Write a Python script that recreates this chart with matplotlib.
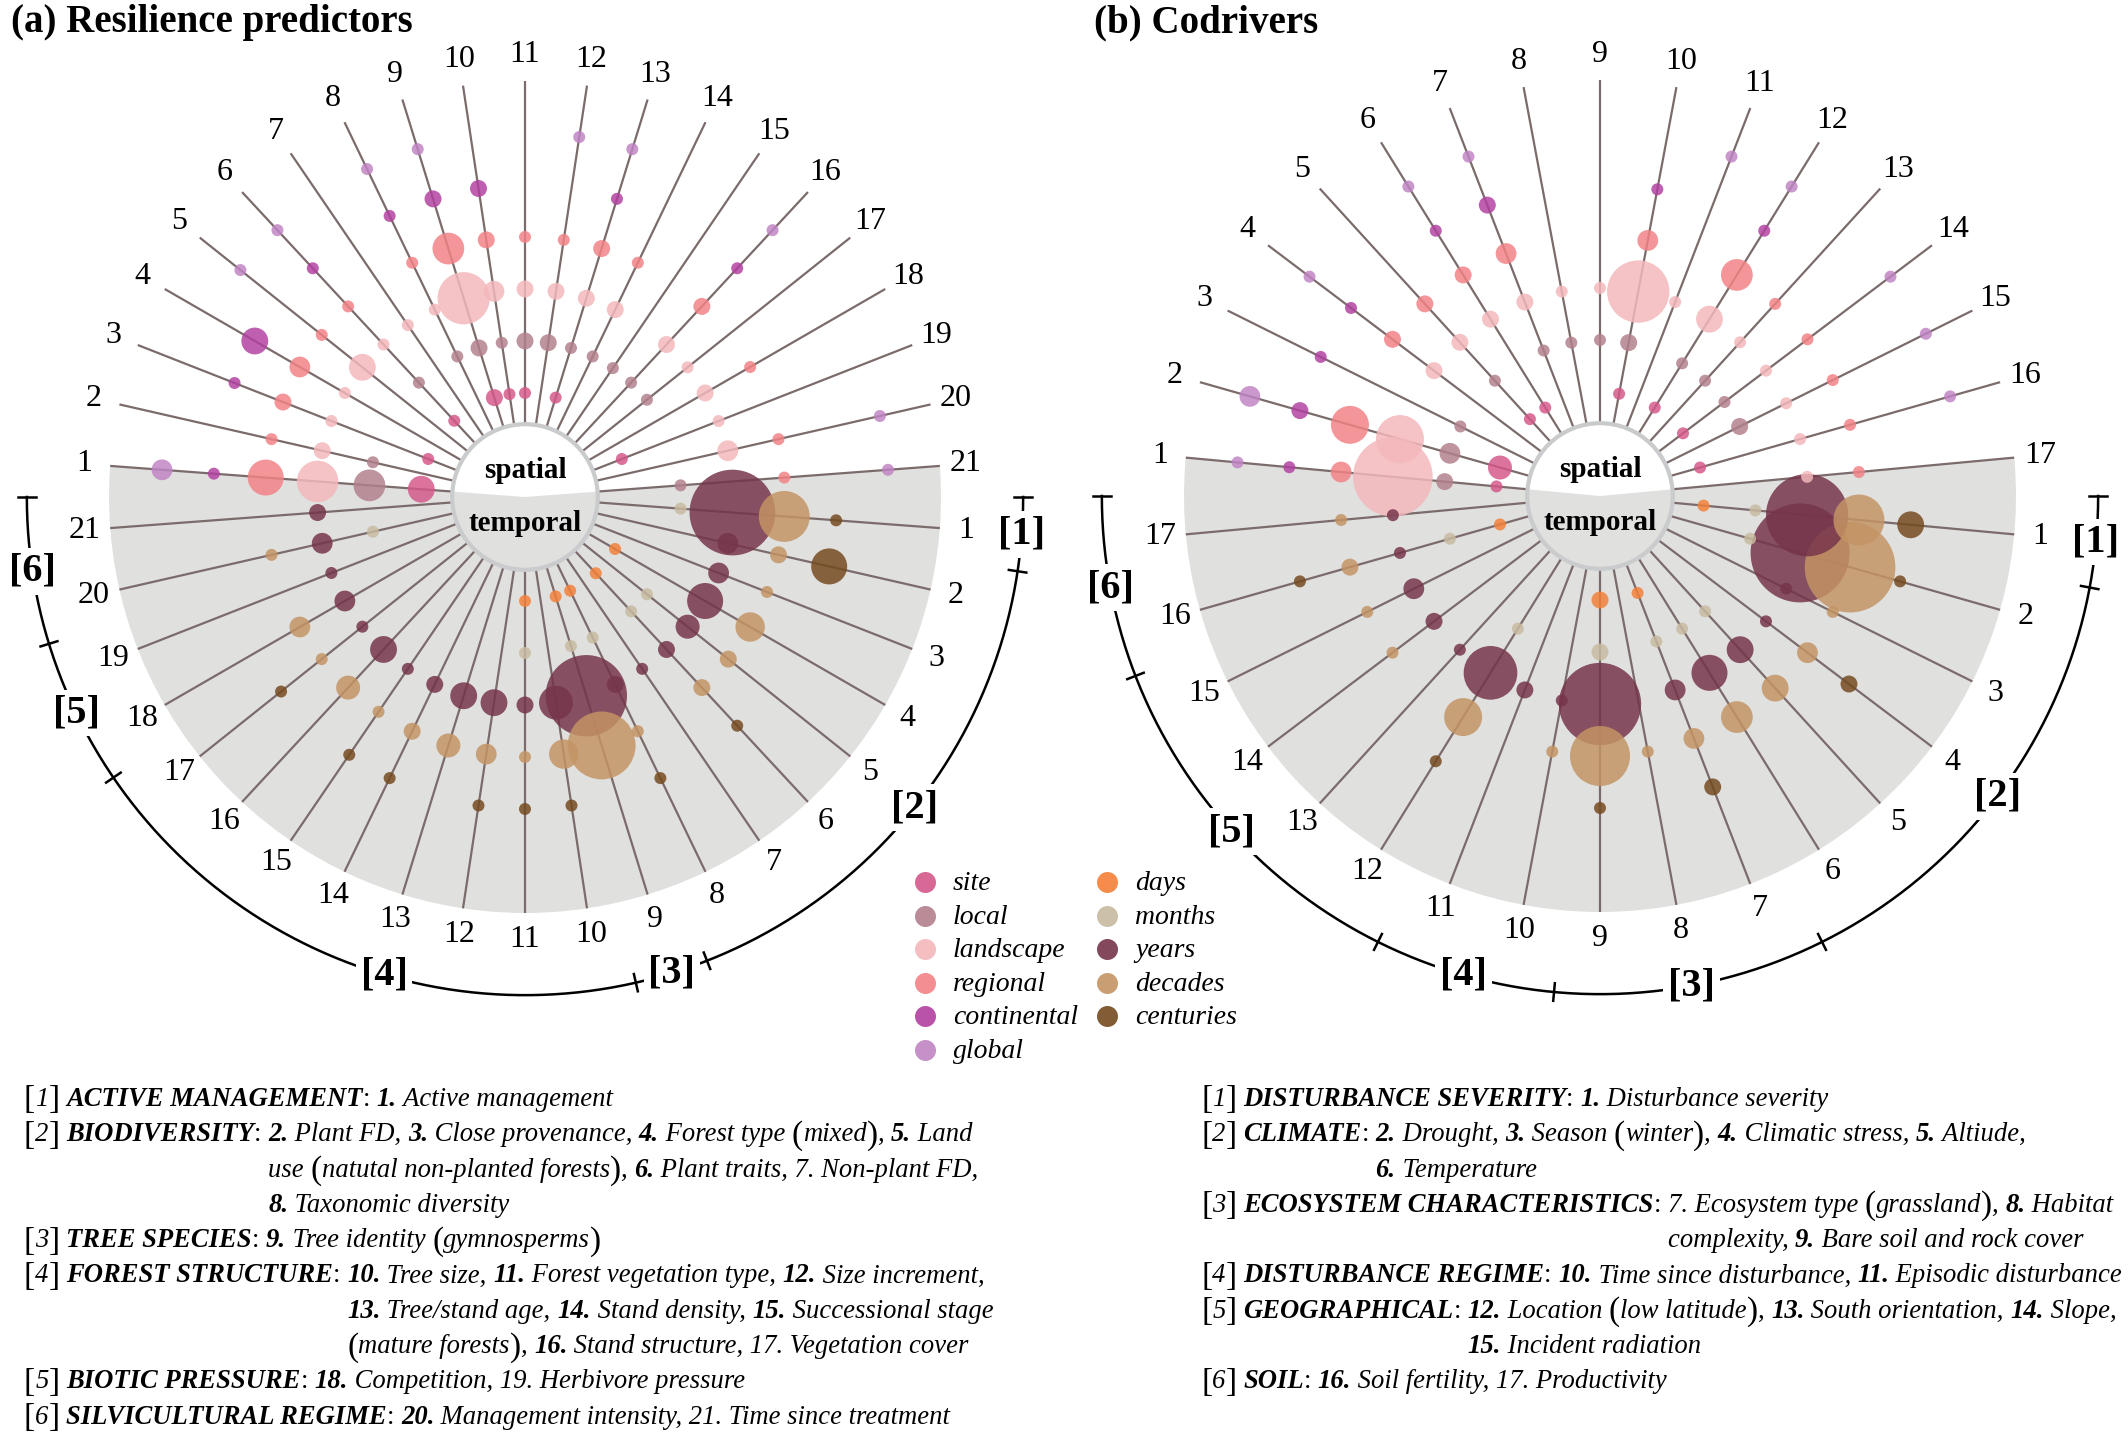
import numpy as np
import matplotlib
matplotlib.use("Agg")
import matplotlib.pyplot as plt
from matplotlib.patches import Wedge, Circle

# ---------------- data ----------------
spatial_scales = ["site", "local", "landscape", "regional", "continental", "global"]
temporal_scales = ["days", "months", "years", "decades", "centuries"]
spatial_colors = ["#d4588a", "#b2808c", "#f4b8bc", "#f28286", "#b240a0", "#c084c4"]
temporal_colors = ["#f48038", "#c8baa0", "#76344a", "#c49464", "#744a1e"]

# number of studies, rows = predictor 1..21, columns = spatial scale
resilience_spatial = [
    [5, 7, 12, 9, 1, 3],
    [0, 1, 2, 1, 0, 0],
    [1, 0, 1, 2, 1, 0],
    [0, 0, 1, 3, 5, 0],
    [0, 0, 5, 1, 0, 1],
    [1, 1, 1, 1, 1, 1],
    [0, 0, 1, 0, 0, 0],
    [0, 1, 1, 1, 1, 1],
    [2, 2, 19, 7, 2, 1],
    [1, 1, 3, 2, 2, 0],
    [1, 2, 2, 1, 0, 0],
    [0, 2, 2, 1, 0, 1],
    [1, 1, 2, 2, 1, 1],
    [0, 1, 2, 1, 0, 0],
    [0, 1, 0, 0, 0, 0],
    [0, 1, 2, 2, 1, 1],
    [0, 1, 1, 0, 0, 0],
    [0, 0, 2, 1, 0, 0],
    [1, 0, 1, 0, 0, 0],
    [0, 0, 3, 1, 0, 1],
    [0, 1, 0, 1, 0, 1],
]
# rows = predictor 1..21, columns = temporal scale
resilience_temporal = [
    [0, 1, 51, 18, 1],
    [0, 0, 3, 2, 9],
    [0, 0, 3, 1, 0],
    [1, 0, 9, 6, 0],
    [0, 1, 4, 2, 0],
    [1, 1, 2, 2, 1],
    [0, 0, 1, 0, 0],
    [1, 1, 2, 1, 1],
    [1, 1, 46, 32, 0],
    [0, 0, 8, 6, 1],
    [1, 1, 2, 1, 1],
    [0, 0, 5, 3, 1],
    [0, 0, 5, 4, 0],
    [0, 0, 2, 2, 1],
    [0, 0, 1, 1, 1],
    [0, 0, 5, 4, 0],
    [0, 0, 1, 1, 1],
    [0, 0, 3, 3, 0],
    [0, 0, 1, 0, 0],
    [0, 1, 3, 1, 0],
    [0, 0, 2, 0, 0],
]
resilience_groups = [1, 7, 1, 8, 2, 2]

codrivers_spatial = [
    [1, 2, 44, 3, 1, 1],
    [4, 3, 16, 10, 2, 3],
    [0, 1, 0, 0, 1, 0],
    [0, 0, 2, 2, 1, 1],
    [1, 1, 2, 2, 0, 0],
    [1, 0, 2, 2, 1, 1],
    [0, 1, 2, 3, 2, 1],
    [0, 1, 1, 0, 0, 0],
    [0, 1, 1, 0, 0, 0],
    [1, 2, 27, 3, 1, 0],
    [0, 0, 1, 0, 0, 1],
    [1, 1, 5, 7, 1, 1],
    [0, 1, 1, 1, 0, 0],
    [1, 1, 1, 1, 0, 1],
    [0, 2, 1, 1, 0, 1],
    [1, 0, 1, 1, 0, 1],
    [0, 0, 1, 1, 0, 0],
]
codrivers_temporal = [
    [1, 1, 47, 18, 5],
    [0, 1, 68, 57, 1],
    [0, 0, 1, 1, 0],
    [0, 0, 1, 3, 2],
    [0, 1, 5, 5, 0],
    [0, 1, 9, 7, 0],
    [1, 1, 3, 3, 2],
    [0, 0, 0, 1, 0],
    [2, 2, 47, 25, 1],
    [0, 0, 1, 1, 0],
    [0, 0, 2, 0, 0],
    [0, 1, 20, 10, 1],
    [0, 0, 1, 0, 0],
    [0, 0, 2, 1, 0],
    [0, 0, 3, 1, 0],
    [1, 1, 1, 2, 1],
    [0, 0, 1, 1, 0],
]
codrivers_groups = [1, 5, 3, 2, 4, 2]

# key text: * toggles bold, | toggles upright, ^ marks the indent, > continues
resilience_key = [
    "|[|1|]| *ACTIVE MANAGEMENT*|:| ^*1.* Active management",
    "|[|2|]| *BIODIVERSITY*|:| ^*2.* Plant FD, *3.* Close provenance, *4.* Forest type |(|mixed|)|, *5.* Land",
    ">use |(|natutal non-planted forests|)|, *6.* Plant traits, 7. Non-plant FD,",
    ">*8.* Taxonomic diversity",
    "|[|3|]| *TREE SPECIES*|:| ^*9.* Tree identity |(|gymnosperms|)|",
    "|[|4|]| *FOREST STRUCTURE*|:| ^*10.* Tree size, *11.* Forest vegetation type, *12.* Size increment,",
    ">*13.* Tree/stand age, *14.* Stand density, *15.* Successional stage",
    ">|(|mature forests|)|, *16.* Stand structure, 17. Vegetation cover",
    "|[|5|]| *BIOTIC PRESSURE*|:| ^*18.* Competition, 19. Herbivore pressure",
    "|[|6|]| *SILVICULTURAL REGIME*|:| ^*20.* Management intensity, 21. Time since treatment",
]
codrivers_key = [
    "|[|1|]| *DISTURBANCE SEVERITY*|:| ^*1.* Disturbance severity",
    "|[|2|]| *CLIMATE*|:| ^*2.* Drought, *3.* Season |(|winter|)|, *4.* Climatic stress, *5.* Altiude,",
    ">*6.* Temperature",
    "|[|3|]| *ECOSYSTEM CHARACTERISTICS*|:| ^7. Ecosystem type |(|grassland|)|, *8.* Habitat",
    ">complexity, *9.* Bare soil and rock cover",
    "|[|4|]| *DISTURBANCE REGIME*|:| ^*10.* Time since disturbance, *11.* Episodic disturbance",
    "|[|5|]| *GEOGRAPHICAL*|:| ^*12.* Location |(|low latitude|)|, *13.* South orientation, *14.* Slope,",
    ">*15.* Incident radiation",
    "|[|6|]| *SOIL*|:| ^*16.* Soil fertility, 17. Productivity",
]

# ---------------- style / layout ----------------
plt.rcParams['font.family'] = ['Liberation Serif', 'DejaVu Serif']

W, H = 2128, 1433
U = 52.0            # px per ring step
R_IN, R_OUT = 1.4, 8.0
R_LABEL, R_BRACKET = 8.5, 9.58
RING0 = 2.0
DOT_S = (12.0 * 0.72) ** 2   # marker area (pt^2) for one study
GRAY = "#e0e0df"
SPOKE = "#7b6b6b"
RIM = "#c9cbcc"

fig = plt.figure(figsize=(W / 100, H / 100), dpi=100)
ax_bg = fig.add_axes([0, 0, 1, 1])
ax_bg.set_xlim(0, W)
ax_bg.set_ylim(H, 0)
ax_bg.axis('off')
renderer = fig.canvas.get_renderer()


def chart_axes(cx, cy, x0=-10.3, x1=10.3, y0=-10.4, y1=9.5):
    left = cx + x0 * U
    right = cx + x1 * U
    top = cy - y1 * U
    bottom = cy - y0 * U
    ax = fig.add_axes([left / W, 1 - bottom / H, (right - left) / W, (bottom - top) / H])
    ax.set_xlim(x0, x1)
    ax.set_ylim(y0, y1)
    ax.axis('off')
    return ax


def draw_chart(ax, spatial, temporal, groups, label_shift=None):
    spatial = np.asarray(spatial, float)
    temporal = np.asarray(temporal, float)
    n = len(spatial)
    step = 180.0 / n
    ang_s = np.radians(180.0 - (np.arange(n) + 0.5) * step)
    ang_t = np.radians(-(np.arange(n) + 0.5) * step)

    ax.add_patch(Wedge((0, 0), R_OUT, 180 - step / 2, 360 + step / 2,
                       facecolor=GRAY, edgecolor='none', zorder=0))
    rr = np.array([R_IN, R_OUT])
    for a in np.concatenate([ang_s, ang_t]):
        ax.plot(rr * np.cos(a), rr * np.sin(a), color=SPOKE, lw=1.6,
                solid_capstyle='butt', zorder=1)
    ax.add_patch(Circle((0, 0), R_IN, facecolor='none', edgecolor=RIM, lw=3, zorder=4))

    xs, ys, ss, cs = [], [], [], []
    for ang, counts, colors in ((ang_s, spatial, spatial_colors),
                                (ang_t, temporal, temporal_colors)):
        for i in range(n):
            for k, c in enumerate(counts[i]):
                if c > 0:
                    r = RING0 + k
                    xs.append(r * np.cos(ang[i]))
                    ys.append(r * np.sin(ang[i]))
                    ss.append(c)
                    cs.append(colors[k])
    xs, ys, ss, cs = map(np.array, (xs, ys, ss, cs))
    order = np.argsort(-ss, kind='stable')
    ax.scatter(xs[order], ys[order], s=DOT_S * ss[order], c=cs[order],
               alpha=0.84, linewidths=0, zorder=3)

    for i in range(n):
        for a in (ang_s[i], ang_t[i]):
            ax.text(R_LABEL * np.cos(a), R_LABEL * np.sin(a), str(i + 1),
                    ha='center', va='center', fontsize=23)
    ax.text(0, 0.37, "spatial", ha='center', va='baseline', fontsize=21,
            fontweight='bold', zorder=5)
    ax.text(0, -0.65, "temporal", ha='center', va='baseline', fontsize=21,
            fontweight='bold', zorder=5)

    # bracket arc with group ticks and labels
    th = np.linspace(0, -np.pi, 400)
    ax.plot(R_BRACKET * np.cos(th), R_BRACKET * np.sin(th), color='black', lw=1.8, zorder=2)
    bounds = np.concatenate([[0], np.cumsum(groups)]) * step
    tick = np.array([R_BRACKET - 0.17, R_BRACKET + 0.17])
    for b in np.radians(-bounds):
        ax.plot(tick * np.cos(b), tick * np.sin(b), color='black', lw=1.8, zorder=2)
    if label_shift is None:
        label_shift = [0] * len(groups)
    for g in range(len(groups)):
        mid = np.radians(-(bounds[g] + bounds[g + 1]) / 2 + label_shift[g])
        ax.text(R_BRACKET * np.cos(mid), R_BRACKET * np.sin(mid), f"[{g + 1}]",
                ha='center', va='center', fontsize=29, fontweight='bold', zorder=6,
                bbox=dict(boxstyle='square,pad=0.12', fc='white', ec='none'))


def parse(line):
    segs, buf, bold, upright = [], "", False, False
    for ch in line:
        if ch in "*|^":
            if buf:
                segs.append((buf, bold, upright))
                buf = ""
            if ch == "*":
                bold = not bold
            elif ch == "|":
                upright = not upright
            else:
                segs.append(None)
        else:
            buf += ch
    if buf:
        segs.append((buf, bold, upright))
    return segs


def seg_width(text, kw):
    t = ax_bg.text(0, 0, "x" + text + "x", **kw)
    w1 = t.get_window_extent(renderer).width
    t.set_text("xx")
    w0 = t.get_window_extent(renderer).width
    t.remove()
    return w1 - w0


def draw_key(x0, y0, lines, size=19.2, row=35.3):
    indent = x0
    for k, line in enumerate(lines):
        y = y0 + k * row
        x = x0
        if line.startswith(">"):
            x = indent
            line = line[1:]
        for seg in parse(line):
            if seg is None:
                indent = x
                continue
            text, bold, upright = seg
            fs, dy = size, 0.0
            if text in "[]()":
                fs, dy = size * 1.25, size * 0.12
            kw = dict(fontsize=fs, fontweight='bold' if bold else 'normal',
                      fontstyle='normal' if upright else 'italic')
            ax_bg.text(x, y + dy, text, ha='left', va='baseline', **kw)
            x += seg_width(text, kw)


# ---------------- draw ----------------
ax_a = chart_axes(525, 497)
draw_chart(ax_a, resilience_spatial, resilience_temporal, resilience_groups,
           label_shift=[0, 0, 0, 5, 0, 0])
ax_b = chart_axes(1600, 496)
draw_chart(ax_b, codrivers_spatial, codrivers_temporal, codrivers_groups)

ax_bg.text(11, 4, "(a) Resilience predictors", ha='left', va='top', fontsize=28, fontweight='bold')
ax_bg.text(1094, 4, "(b) Codrivers", ha='left', va='top', fontsize=28, fontweight='bold')

# legend
LEG_Y0, LEG_DY = 882, 33.6
for col_x, names, colors in ((925, spatial_scales, spatial_colors),
                             (1107, temporal_scales, temporal_colors)):
    for k, (name, c) in enumerate(zip(names, colors)):
        y = LEG_Y0 + k * LEG_DY
        ax_bg.scatter([col_x], [y], s=(21 * 0.72) ** 2, color=c, alpha=0.9, linewidths=0)
        ax_bg.text(col_x + 28, y + 8, name, ha='left', va='baseline', fontsize=20,
                   fontstyle='italic')

draw_key(24, 1106, resilience_key)
draw_key(1201, 1106, codrivers_key)

fig.savefig("out.png", dpi=100, facecolor='white')
